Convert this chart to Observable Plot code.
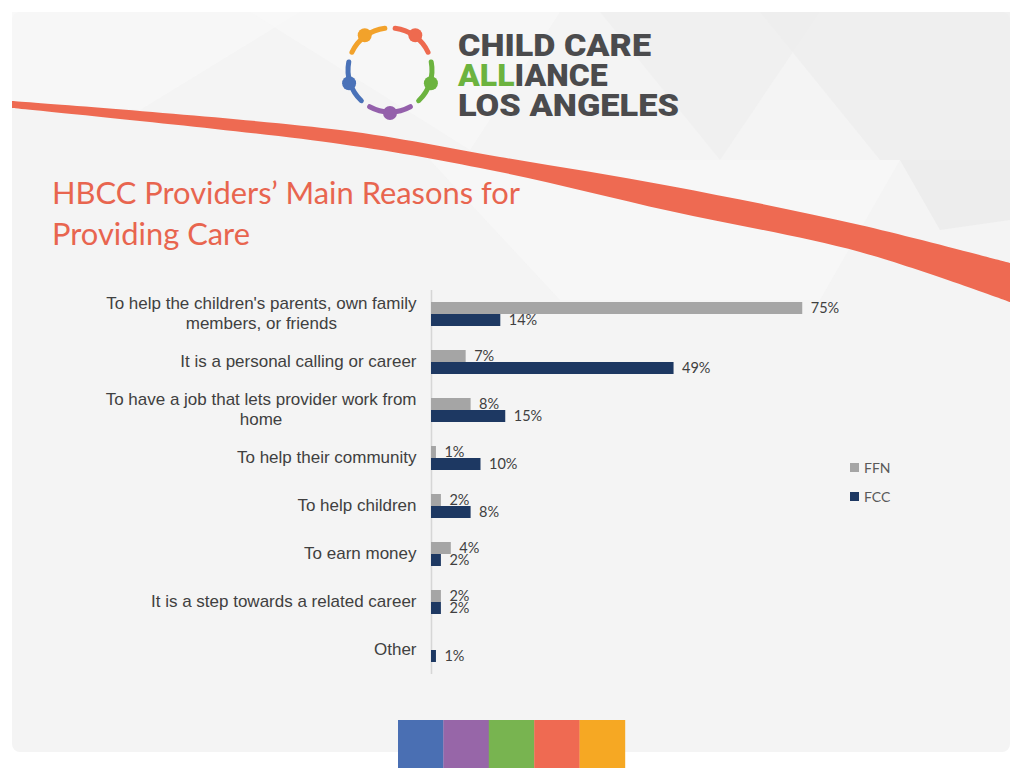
<!DOCTYPE html>
<html>
<head>
<meta charset="utf-8">
<script src="https://cdn.jsdelivr.net/npm/d3@7"></script>
<script src="https://cdn.jsdelivr.net/npm/@observablehq/plot@0.6"></script>
<style>
  body { margin: 0; background: #ffffff; }
  #page { position: relative; width: 1024px; height: 768px; overflow: hidden; background: #ffffff; }
  #deco { position: absolute; left: 0; top: 0; }
  #chart { position: absolute; left: 0; top: 288px; }
  #legend { position: absolute; left: 850px; top: 455px; font-family: Lato, "Open Sans", sans-serif; font-size: 14px; color: #595959; }
  #legend .row { display: flex; align-items: center; height: 24px; margin-bottom: 5px; }
  #legend .sw { width: 9px; height: 9px; margin-right: 5px; }
</style>
</head>
<body>
<div id="page">
  <svg id="deco" width="1024" height="768"></svg>
  <div id="chart"></div>
  <div id="legend"></div>
</div>
<script>
// ---- data ----
const categories = [
  "To help the children's parents, own family\nmembers, or friends",
  "It is a personal calling or career",
  "To have a job that lets provider work from\nhome",
  "To help their community",
  "To help children",
  "To earn money",
  "It is a step towards a related career",
  "Other"
];
const series = ["FFN", "FCC"];
const ffnValues = [75, 7, 8, 1, 2, 4, 2, null];
const fccValues = [14, 49, 15, 10, 8, 2, 2, 1];
const seriesColors = ["#a5a5a5", "#1d3862"];
const titleLines = ["HBCC Providers\u2019 Main Reasons for", "Providing Care"];

const data = [];
categories.forEach((c, i) => {
  if (ffnValues[i] != null) data.push({category: c, series: "FFN", value: ffnValues[i]});
  if (fccValues[i] != null) data.push({category: c, series: "FCC", value: fccValues[i]});
});

// ---- decoration (slide background, logo, title) ----
const svg = d3.select("#deco");
svg.append("rect").attr("x", 12).attr("y", 12).attr("width", 998).attr("height", 740)
  .attr("rx", 8).attr("fill", "#f4f4f4");
// header pattern (subtle)
const tri = [
  [[12,12],[300,12],[140,110],[12,105]],
  [[250,12],[560,12],[470,150]],
  [[600,12],[820,12],[720,160]],
  [[760,12],[1010,12],[1010,160],[880,160]],
  [[430,160],[900,160],[820,300],[560,300]],
  [[900,160],[1010,160],[1010,220],[940,230]]
];
const triFill = ["#f7f7f7", "#f8f8f8", "#efefef", "#eeeeee", "#f8f8f8", "#ebebeb"];
tri.forEach((p, i) => svg.append("polygon").attr("points", p.map(q => q.join(",")).join(" "))
  .attr("fill", triFill[i]).attr("opacity", 0.8));
// swoosh
const topEdge = [[12,101],[340,130],[500,157],[670,186],[860,225],[1010,263]];
const botEdge = [[1010,302],[860,252],[670,211],[500,172],[340,144],[12,108]];
const lineGen = d3.line().curve(d3.curveCatmullRom);
svg.append("path")
  .attr("d", lineGen(topEdge) + "L" + lineGen(botEdge).slice(1) + "Z")
  .attr("fill", "#ee6a52");
// logo ring
const cx = 390, cy = 70, r = 42;
const logoColors = ["#f2a22b", "#ee6a4f", "#6cb33f", "#9460ab", "#4a72b8"];
const logoAngles = [-126, -54, 18, 90, 162];
logoAngles.forEach((a, i) => {
  const a0 = (a - 29) * Math.PI / 180, a1 = (a + 29) * Math.PI / 180, am = a * Math.PI / 180;
  svg.append("path")
    .attr("d", `M${cx + r*Math.cos(a0)},${cy + r*Math.sin(a0)} A${r},${r} 0 0 1 ${cx + r*Math.cos(a1)},${cy + r*Math.sin(a1)}`)
    .attr("fill", "none").attr("stroke", logoColors[i]).attr("stroke-width", 5).attr("stroke-linecap", "round");
  svg.append("circle").attr("cx", cx + (r+1)*Math.cos(am)).attr("cy", cy + (r+1)*Math.sin(am))
    .attr("r", 7).attr("fill", logoColors[i]);
});
const logoFont = "Roboto, 'Open Sans', sans-serif";
svg.append("text").attr("x", 458).attr("y", 56).attr("textLength", 193).attr("lengthAdjust", "spacingAndGlyphs")
  .attr("font-family", logoFont).attr("font-weight", 900).attr("font-size", 32).attr("fill", "#4b4b4d").text("CHILD CARE");
const t2 = svg.append("text").attr("x", 458).attr("y", 86)
  .attr("font-family", logoFont).attr("font-weight", 900).attr("font-size", 32).attr("fill", "#4b4b4d");
t2.append("tspan").attr("fill", "#6cb33f").text("ALL");
t2.append("tspan").text("IANCE");
svg.append("text").attr("x", 458).attr("y", 116).attr("textLength", 221).attr("lengthAdjust", "spacingAndGlyphs")
  .attr("font-family", logoFont).attr("font-weight", 900).attr("font-size", 32).attr("fill", "#4b4b4d").text("LOS ANGELES");
// title
svg.append("text").attr("x", 52).attr("y", 204).attr("textLength", 468).attr("lengthAdjust", "spacingAndGlyphs")
  .attr("font-family", "Lato, 'Open Sans', sans-serif").attr("font-size", 31).attr("fill", "#e8654f").text(titleLines[0]);
svg.append("text").attr("x", 52).attr("y", 245).attr("textLength", 198).attr("lengthAdjust", "spacingAndGlyphs")
  .attr("font-family", "Lato, 'Open Sans', sans-serif").attr("font-size", 31).attr("fill", "#e8654f").text(titleLines[1]);
// bottom colour blocks
const blockColors = ["#4a6fb3", "#9766a8", "#78b450", "#ef6a52", "#f6a823"];
blockColors.forEach((c, i) => svg.append("rect").attr("x", 398 + i*45.4).attr("y", 720)
  .attr("width", 45.6).attr("height", 48).attr("fill", c));

// ---- chart ----
const labelFont = "'Liberation Sans', Arial, sans-serif";
const ctx = document.createElement("canvas").getContext("2d");
ctx.font = "17px 'Liberation Sans', Arial, sans-serif";
const labelMarks = categories.map(c => {
  const w = d3.max(c.split("\n"), s => ctx.measureText(s).width);
  return Plot.text([c], {
    fy: d => d, frameAnchor: "left", text: d => d, textAnchor: "middle",
    dx: -15 - w / 2, dy: -2, fontSize: 17, fontFamily: labelFont,
    fill: "#404040", lineHeight: 1.18
  });
});

const chart = Plot.plot({
  width: 1024,
  height: 388,
  marginLeft: 431,
  marginRight: 197,
  marginTop: 0,
  marginBottom: 0,
  style: {background: "transparent", overflow: "visible"},
  x: {domain: [0, 80], axis: null},
  y: {domain: series, axis: null, paddingInner: 0, paddingOuter: 0.865},
  fy: {domain: categories, padding: 0, axis: null},
  color: {domain: series, range: seriesColors},
  marks: [
    Plot.ruleX([0], {stroke: "#d6d6d6", strokeWidth: 1.5}),
    Plot.barX(data, {x: "value", y: "series", fy: "category", fill: "series"}),
    Plot.text(data, {
      x: "value", y: "series", fy: "category", text: d => d.value + "%",
      dx: 8, textAnchor: "start", fontSize: 14.5, fontFamily: "Lato, 'Open Sans', sans-serif", fill: "#404040"
    }),
    ...labelMarks
  ]
});
document.getElementById("chart").appendChild(chart);

// ---- legend ----
const legend = d3.select("#legend");
series.forEach((s, i) => {
  const row = legend.append("div").attr("class", "row");
  row.append("div").attr("class", "sw").style("background", seriesColors[i]);
  row.append("span").text(s);
});
</script>
</body>
</html>
